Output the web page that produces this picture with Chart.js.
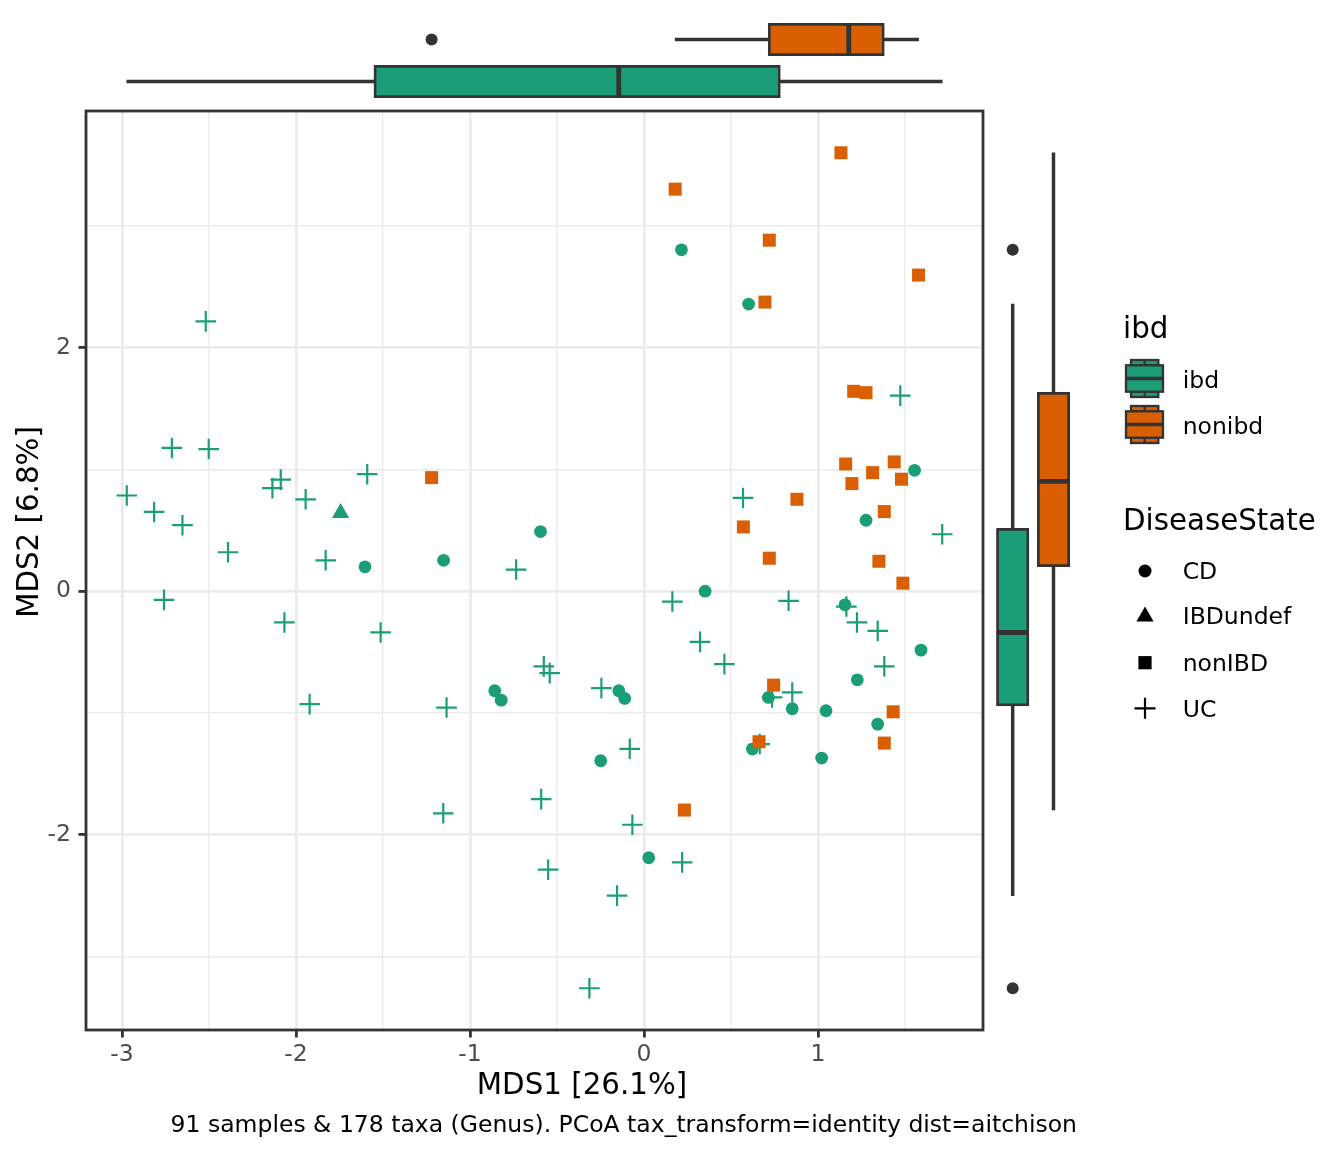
<!DOCTYPE html>
<html><head><meta charset="utf-8">
<script src="https://cdn.jsdelivr.net/npm/chart.js@4"></script>
<style>
html,body{margin:0;padding:0;background:#fff;}
#wrap{position:relative;width:1344px;height:1152px;overflow:hidden;}
canvas{position:absolute;}
</style></head><body>
<div id="wrap">
<canvas id="main" width="1344" height="1152" style="left:0;top:0;width:1344px;height:1152px"></canvas>
<canvas id="topc" width="1000" height="111" style="left:0;top:0;width:1000px;height:111px"></canvas>
<canvas id="rightc" width="100" height="1152" style="left:983px;top:0;width:100px;height:1152px"></canvas>
</div>
<script>
// ---- data (MDS1, MDS2) per DiseaseState ----
const cdX = [-1.604,-1.152,-0.595,0.215,0.601,1.555,1.276,-0.858,-0.821,0.351,1.155,1.592,1.226,-0.145,-0.111,0.715,0.852,1.046,1.343,0.623,1.021,-0.249,0.027];
const cdY = [0.200,0.254,0.490,2.805,2.359,0.993,0.583,-0.818,-0.895,0.000,-0.112,-0.484,-0.728,-0.818,-0.881,-0.873,-0.966,-0.982,-1.092,-1.297,-1.371,-1.393,-2.190];
const undefX = [-1.744];
const undefY = [0.643];
const nonX = [1.132,0.179,0.720,1.578,0.695,1.205,1.276,1.159,1.438,1.314,1.480,1.195,0.879,1.381,0.571,0.720,1.350,-1.221,0.745,1.432,1.381,0.661,0.232,1.488];
const nonY = [3.602,3.303,2.884,2.597,2.375,1.642,1.631,1.045,1.062,0.974,0.920,0.884,0.755,0.654,0.528,0.271,0.246,0.933,-0.772,-0.991,-1.248,-1.237,-1.798,0.066];
const ucX = [-2.519,-2.714,-2.502,-2.973,-2.816,-2.653,-2.391,-2.088,-2.136,-1.945,-1.591,-1.830,-0.735,1.473,0.569,1.714,-2.759,-2.067,-1.514,-1.922,-1.135,-1.154,0.163,0.831,1.163,1.224,1.343,1.381,0.322,0.462,-0.576,-0.542,-0.245,0.852,0.736,0.665,-0.082,-0.591,-0.067,0.219,-0.551,-0.155,-0.314];
const ucY = [2.217,1.177,1.168,0.786,0.651,0.542,0.320,0.917,0.846,0.755,0.961,0.254,0.178,1.607,0.766,0.468,-0.071,-0.257,-0.339,-0.928,-0.956,-1.825,-0.085,-0.079,-0.126,-0.257,-0.326,-0.618,-0.416,-0.599,-0.618,-0.673,-0.796,-0.832,-0.873,-1.256,-1.295,-1.708,-1.919,-2.228,-2.288,-2.501,-3.262];
const ibdGroups = ['ibd','nonibd'];
const diseaseStates = ['CD','IBDundef','nonIBD','UC'];
const xTitle = 'MDS1 [26.1%]';
const yTitle = 'MDS2 [6.8%]';
const caption = '91 samples & 178 taxa (Genus). PCoA tax_transform=identity dist=aitchison';

// ---- style ----
const GREEN = '#1B9E77', ORANGE = '#D95F02', DARK = '#333333';
const FONT = "'DejaVu Sans'";
const LW = 2.8;
const TITLE_PX = 29.3, TEXT_PX = 23.5;

const pts = (xs, ys) => xs.map((x, i) => ({x, y: ys[i]}));
const ibdX = [...cdX, ...undefX, ...ucX], ibdY = [...cdY, ...undefY, ...ucY];

function quantile(s, p){ const h=(s.length-1)*p, lo=Math.floor(h); const hi=Math.min(lo+1,s.length-1); return s[lo]+(h-lo)*(s[hi]-s[lo]); }
function boxStats(vals){
  const s=[...vals].sort((a,b)=>a-b);
  const q1=quantile(s,.25), med=quantile(s,.5), q3=quantile(s,.75), iqr=q3-q1;
  const inside=s.filter(v=>v>=q1-1.5*iqr && v<=q3+1.5*iqr);
  const lo=Math.min(...inside), hi=Math.max(...inside);
  return {q1,med,q3,lo,hi,out:s.filter(v=>v<lo||v>hi)};
}
function expand(vals){ const mn=Math.min(...vals), mx=Math.max(...vals), r=mx-mn; return [mn-0.05*r, mx+0.05*r]; }
const [xMin,xMax] = expand([...ibdX, ...nonX]);
const [yMin,yMax] = expand([...ibdY, ...nonY]);

const isInt = v => Math.abs(v-Math.round(v))<1e-6;
const isEven = v => isInt(v) && Math.round(v)%2===0;

// ---- main plot decorations plugin ----
const deco = {
  id:'deco',
  afterDraw(chart){
    const ctx=chart.ctx, a=chart.chartArea;
    ctx.save();
    ctx.strokeStyle=DARK; ctx.lineWidth=LW;
    ctx.strokeRect(a.left, a.top, a.right-a.left, a.bottom-a.top);
    ctx.fillStyle='#000';
    // axis titles
    ctx.font=TITLE_PX+'px '+FONT; ctx.textAlign='center'; ctx.textBaseline='alphabetic';
    ctx.fillText(xTitle, 582, 1094);
    ctx.save(); ctx.translate(38, 522); ctx.rotate(-Math.PI/2); ctx.fillText(yTitle, 0, 0); ctx.restore();
    // caption
    ctx.font=TEXT_PX+'px '+FONT; ctx.textAlign='right';
    ctx.fillText(caption, 1077, 1132);
    // legend: ibd
    ctx.textAlign='left';
    ctx.font=TITLE_PX+'px '+FONT;
    ctx.fillText('ibd', 1123, 338);
    ctx.fillText('DiseaseState', 1123, 530);
    ctx.font=TEXT_PX+'px '+FONT;
    const keyY=[378.5, 424.5], fills=[GREEN, ORANGE];
    ibdGroups.forEach((g,i)=>{
      const cy=keyY[i];
      ctx.fillStyle=fills[i]; ctx.strokeStyle=DARK; ctx.lineWidth=2.3;
      [[cy-18.5,5.3],[cy+13.2,5.3]].forEach(([t,h])=>{ ctx.fillRect(1131,t,27.3,h); ctx.strokeRect(1131,t,27.3,h); ctx.beginPath(); ctx.moveTo(1144.7,t); ctx.lineTo(1144.7,t+h); ctx.stroke(); });
      ctx.fillRect(1126,cy-13.2,37,26.4); ctx.strokeRect(1126,cy-13.2,37,26.4);
      ctx.lineWidth=3.6; ctx.beginPath(); ctx.moveTo(1126,cy); ctx.lineTo(1163,cy); ctx.stroke();
      ctx.fillStyle='#000'; ctx.fillText(g, 1182.7, cy+9);
    });
    // legend: DiseaseState
    const sy=[571, 616, 662.7, 708.3];
    ctx.fillStyle='#000'; ctx.strokeStyle='#000';
    ctx.beginPath(); ctx.arc(1145, sy[0], 6.5, 0, Math.PI*2); ctx.fill();
    ctx.beginPath(); ctx.moveTo(1145, sy[1]-9.5); ctx.lineTo(1145+8.6, sy[1]+5.5); ctx.lineTo(1145-8.6, sy[1]+5.5); ctx.closePath(); ctx.fill();
    ctx.fillRect(1138.4, sy[2]-6.6, 13.2, 13.2);
    ctx.lineWidth=2.2; ctx.beginPath(); ctx.moveTo(1134.5, sy[3]); ctx.lineTo(1155.5, sy[3]); ctx.moveTo(1145, sy[3]-10.5); ctx.lineTo(1145, sy[3]+10.5); ctx.stroke();
    diseaseStates.forEach((d,i)=>{ ctx.fillText(d, 1182.7, sy[i]+8.3); });
    ctx.restore();
  }
};

const tickFont = {family:"DejaVu Sans", size:TEXT_PX};
new Chart(document.getElementById('main'), {
  type:'scatter',
  data:{ datasets:[
    {label:'nonIBD', data:pts(nonX,nonY), pointStyle:'rect', pointRadius:9.2, backgroundColor:ORANGE, borderWidth:0},
    {label:'CD', data:pts(cdX,cdY), pointStyle:'circle', pointRadius:6.4, backgroundColor:GREEN, borderWidth:0},
    {label:'IBDundef', data:pts(undefX,undefY), pointStyle:'triangle', pointRadius:10, backgroundColor:GREEN, borderWidth:0},
    {label:'UC', data:pts(ucX,ucY), pointStyle:'cross', pointRadius:10.3, borderColor:GREEN, backgroundColor:GREEN, borderWidth:2.2}
  ]},
  options:{
    responsive:false, animation:false, events:[],
    layout:{padding:{left:26, right:361, top:111, bottom:52}},
    plugins:{legend:{display:false}, tooltip:{enabled:false}},
    scales:{
      x:{ type:'linear', min:xMin, max:xMax,
        afterFit(s){ s.height=70; },
        border:{display:false},
        grid:{ color:'#EBEBEB', lineWidth:c=>isInt(c.tick.value)?LW:1.4, drawTicks:true, tickLength:7.5,
               tickColor:c=>isInt(c.tick.value)?DARK:'rgba(0,0,0,0)', tickWidth:LW },
        ticks:{ stepSize:0.5, includeBounds:false, autoSkip:false, maxRotation:0, padding:3, color:'#4D4D4D', font:tickFont,
                callback:v=>isInt(v)?String(Math.round(v)):'' }
      },
      y:{ type:'linear', min:yMin, max:yMax,
        afterFit(s){ s.width=60; },
        border:{display:false},
        grid:{ color:'#EBEBEB', lineWidth:c=>isEven(c.tick.value)?LW:1.4, drawTicks:true, tickLength:7.5,
               tickColor:c=>isEven(c.tick.value)?DARK:'rgba(0,0,0,0)', tickWidth:LW },
        ticks:{ stepSize:1, includeBounds:false, autoSkip:false, padding:7.5, color:'#4D4D4D', font:tickFont,
                callback:v=>isEven(v)?String(Math.round(v)):'' }
      }
    }
  },
  plugins:[deco]
});

// ---- marginal boxplots ----
const statsX = {ibd: boxStats(ibdX), nonibd: boxStats(nonX)};
const statsY = {ibd: boxStats(ibdY), nonibd: boxStats(nonY)};
const fillOf = {ibd: GREEN, nonibd: ORANGE};

function boxDatasets(order, stats, horizontal){
  const whisk = {backgroundColor:DARK, borderWidth:0, barThickness:LW, grouped:false};
  const box = {backgroundColor:order.map(g=>fillOf[g]), borderColor:DARK, borderWidth:LW, borderSkipped:false, barThickness:32.5, grouped:false};
  const outliers = [];
  order.forEach(g=>stats[g].out.forEach(v=>outliers.push(horizontal?{x:v,y:g}:{x:g,y:v})));
  return [
    {type:'bar', data:order.map(g=>[stats[g].lo, stats[g].q1]), ...whisk},
    {type:'bar', data:order.map(g=>[stats[g].q3, stats[g].hi]), ...whisk},
    {type:'bar', data:order.map(g=>[stats[g].q1, stats[g].med]), ...box},
    {type:'bar', data:order.map(g=>[stats[g].med, stats[g].q3]), ...box},
    {type:'scatter', data:outliers, pointStyle:'circle', pointRadius:6, backgroundColor:DARK, borderWidth:0}
  ];
}

const topOrder = ['nonibd','ibd'];
new Chart(document.getElementById('topc'), {
  type:'bar',
  data:{ labels:topOrder, datasets:boxDatasets(topOrder, statsX, true) },
  options:{
    indexAxis:'y', responsive:false, animation:false, events:[],
    layout:{padding:{left:86, right:17, top:18.5, bottom:8.5}},
    plugins:{legend:{display:false}, tooltip:{enabled:false}},
    scales:{
      x:{type:'linear', min:xMin, max:xMax, display:false},
      y:{type:'category', labels:topOrder, offset:true, display:false}
    }
  }
});

const rightOrder = ['ibd','nonibd'];
new Chart(document.getElementById('rightc'), {
  type:'bar',
  data:{ labels:rightOrder, datasets:boxDatasets(rightOrder, statsY, false) },
  options:{
    indexAxis:'x', responsive:false, animation:false, events:[],
    layout:{padding:{left:9.3, right:9.1, top:111, bottom:122}},
    plugins:{legend:{display:false}, tooltip:{enabled:false}},
    scales:{
      x:{type:'category', labels:rightOrder, offset:true, display:false},
      y:{type:'linear', min:yMin, max:yMax, display:false}
    }
  }
});
</script>
</body></html>
